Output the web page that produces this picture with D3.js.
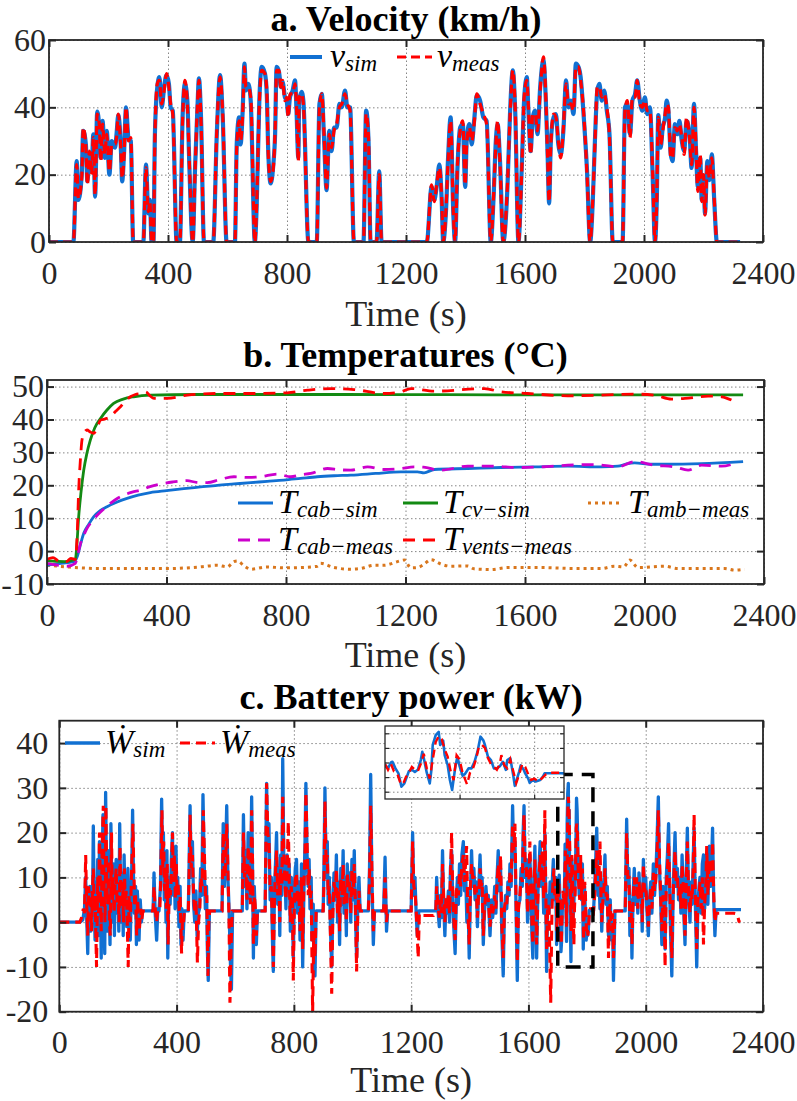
<!DOCTYPE html>
<html>
<head>
<meta charset="utf-8">
<script src="https://d3js.org/d3.v7.min.js"></script>
<style>
  body { margin: 0; background: #fff; }
  svg { display: block; }
  text { font-family: "Liberation Serif", "Times New Roman", Times, "DejaVu Serif", serif; }
  .grid line { stroke: #858585; stroke-width: 1; stroke-dasharray: 1.5 2.5; }
  .grid .domain { display: none; }
  .tk line { stroke: #262626; stroke-width: 2; }
  .tk .domain { display: none; }
  .tk text { font-size: 32px; fill: #262626; font-family: "Liberation Serif", "Times New Roman", Times, "DejaVu Serif", serif; }
  .itk line { stroke: #262626; stroke-width: 1.2; }
  .itk .domain { display: none; }
</style>
</head>
<body>
<svg width="797" height="1101"></svg>
<script>
// ---- data ----
const timeTicks = [0, 400, 800, 1200, 1600, 2000, 2400];
const velTicks = [0, 20, 40, 60];
const tempTicks = [-10, 0, 10, 20, 30, 40, 50];
const powTicks = [-20, -10, 0, 10, 20, 30, 40];
const insetTimeTicks = [1750, 1800];
const insetPowTicks = [-10, 0, 10, 20, 30];
const zoomBox = [1700, 1820, -10, 33];   // t0, t1, p0, p1

// velocity (km/h)
const velTime = [
  0, 82, 93, 99, 110, 115, 124, 129, 136, 143,
  149, 155, 162, 169, 174, 180, 188, 194, 203, 211,
  222, 227, 233, 241, 246, 252, 259, 267, 275, 283,
  317, 326, 334, 339, 345, 351, 356, 364, 371, 379,
  387, 395, 403, 409, 416, 429, 440, 449, 457, 465,
  472, 483, 491, 499, 504, 511, 521, 552, 564, 575,
  584, 597, 625, 631, 639, 644, 651, 657, 662, 670,
  678, 692, 698, 707, 715, 726, 732, 737, 745, 754,
  760, 765, 773, 780, 785, 793, 799, 804, 810, 819,
  827, 832, 838, 841, 849, 855, 872, 900, 909, 917,
  924, 933, 942, 950, 958, 967, 976, 984, 995, 1003,
  1012, 1025, 1057, 1066, 1074, 1081, 1101, 1110, 1118, 1270,
  1286, 1295, 1303, 1312, 1320, 1325, 1334, 1342, 1350, 1359,
  1365, 1373, 1382, 1391, 1399, 1404, 1413, 1421, 1429, 1438,
  1449, 1460, 1471, 1485, 1494, 1502, 1508, 1516, 1527, 1541,
  1550, 1559, 1567, 1578, 1589, 1597, 1606, 1611, 1619, 1626,
  1634, 1642, 1651, 1662, 1670, 1676, 1681, 1687, 1696, 1704,
  1712, 1720, 1729, 1738, 1746, 1754, 1763, 1771, 1780, 1787,
  1796, 1808, 1819, 1828, 1835, 1843, 1850, 1858, 1866, 1875,
  1884, 1895, 1928, 1936, 1944, 1953, 1961, 1970, 1977, 1986,
  1994, 2003, 2011, 2020, 2029, 2037, 2043, 2048, 2056, 2063,
  2071, 2076, 2082, 2090, 2096, 2104, 2112, 2119, 2127, 2135,
  2143, 2153, 2160, 2168, 2175, 2181, 2189, 2194, 2200, 2205,
  2213, 2220, 2228, 2236, 2245, 2323
];
const velSim = [
  0, 0, 24, 12.5, 20, 33, 29, 18, 26, 21,
  32, 13.5, 38.7, 34, 25, 36, 25, 33, 20, 30,
  28, 32, 37.7, 29, 18, 26, 40, 31, 30, 0,
  0, 23, 8.5, 12.5, 0, 0, 32, 46, 49, 40,
  46, 49.6, 47, 40, 39, 0, 0, 37, 47, 42,
  22, 0, 22, 40, 48.6, 37, 0, 0, 32, 49.6,
  37, 0, 0, 29, 37, 29, 39, 53, 45, 47,
  42, 0, 10.5, 42, 52, 50, 44, 27, 17.4, 23,
  32, 52, 50.6, 46, 47.6, 43, 42, 38, 43, 45,
  48, 39, 25, 42, 44.6, 42, 0, 0, 41, 44,
  32, 15.4, 33, 27, 34, 34, 41, 40, 45, 40,
  40, 0, 0, 39, 30, 0, 0, 21, 0, 0,
  16.4, 12.5, 16.4, 23, 12.5, 0, 8.5, 26, 37, 8.5,
  0, 22, 34, 35, 16.4, 30, 35, 29, 36, 43.6,
  42, 37, 36, 0, 12.5, 30, 35, 24, 0, 16.4,
  39, 51, 39, 0, 22, 42, 49, 40, 27, 37,
  39, 32, 46, 54, 42, 26, 11.5, 30, 37, 38,
  29, 26, 33, 48, 40, 42, 38, 53, 52, 49,
  39, 22, 0, 12.5, 30, 45, 47, 42, 45, 39,
  32, 0, 0, 40, 41, 32, 42, 44, 48, 42,
  39, 43, 38, 40, 20, 0, 12.5, 37.7, 28, 34,
  37, 42, 39, 26, 24, 35, 32, 36, 30, 27,
  36, 32, 22, 41, 27, 16.4, 25, 12.5, 19.4, 8.5,
  24, 18.4, 26, 12.5, 0, 0
];
const velMeas = [
  0, 0, 23, 13, 19, 34, 28, 17, 27, 20,
  31, 14, 38, 35, 24, 35, 26, 32, 21, 29,
  29, 31, 38, 28, 19, 25, 40, 30, 31, 0,
  0, 22, 9, 12, 0, 0, 31, 47, 48, 41,
  45, 50, 46, 41, 38, 0, 0, 36, 48, 41,
  23, 0, 21, 41, 48, 36, 0, 0, 33, 49,
  38, 0, 0, 28, 36, 30, 38, 52, 46, 46,
  43, 0, 11, 41, 51, 50, 45, 26, 18, 22,
  33, 51, 51, 45, 48, 42, 43, 37, 44, 44,
  47, 40, 24, 43, 44, 41, 0, 0, 40, 44,
  33, 16, 32, 28, 33, 35, 40, 41, 44, 41,
  39, 0, 0, 38, 31, 0, 0, 20, 0, 0,
  17, 12, 17, 22, 13, 0, 9, 25, 36, 9,
  0, 23, 33, 36, 17, 29, 34, 30, 35, 44,
  41, 38, 35, 0, 13, 29, 36, 23, 0, 17,
  38, 51, 40, 0, 21, 43, 48, 41, 26, 38,
  38, 33, 45, 55, 43, 25, 12, 29, 38, 37,
  30, 25, 34, 47, 41, 41, 39, 52, 52, 48,
  40, 21, 0, 13, 29, 46, 46, 43, 44, 40,
  31, 0, 0, 39, 42, 31, 43, 43, 48, 41,
  40, 42, 39, 39, 21, 0, 13, 37, 29, 33,
  38, 41, 40, 25, 25, 34, 33, 35, 31, 26,
  37, 31, 23, 40, 28, 15, 26, 12, 20, 8,
  23, 19, 25, 13, 0, 0
];

// temperatures (degC), [time, value]
const tCabSim = [[0,-4.3],[40,-3.8],[89,-3.2],[101,-1.7],[112,2],[123,5.4],[140,8.2],[156,10.4],[178,12.3],[201,13.5],
  [235,14.9],[268,16],[305,17],[346,17.8],[400,18.4],[458,19],[514,19.5],[570,20],[626,20.4],[682,20.8],
  [737,21.2],[793,21.6],[849,22.1],[905,22.6],[961,22.9],[1017,23.1],[1100,23.6],[1184,24.1],[1240,24.1],[1262,23.8],
  [1296,24.8],[1408,25.1],[1520,25.4],[1631,25.6],[1743,25.8],[1855,25.6],[1911,25.8],[1940,26.5],[1967,26.8],[2023,26.4],
  [2079,26.4],[2191,26.6],[2330,27.2]];
const tCvSim = [[0,-3],[60,-3.2],[95,-2.5],[100,2],[106,10.4],[114,18],[123,24.6],[133,29.5],[145,33.7],[160,37.5],
  [179,40.3],[200,42.8],[223,44.9],[255,46.2],[290,46.9],[346,47.4],[500,47.6],[1000,47.6],[1500,47.5],[2000,47.5],[2330,47.5]];
const tAmbMeas = [[0,-4.3],[67,-4.8],[179,-5.3],[290,-5.3],[402,-5.3],[514,-4.8],[570,-4.3],[603,-4.8],[626,-3.2],[637,-3],
  [660,-4.5],[682,-5.5],[737,-4.8],[793,-5.1],[849,-5],[905,-4.6],[916,-3.7],[961,-5],[1017,-5.5],[1050,-5.3],
  [1095,-4.3],[1128,-4.3],[1173,-3.2],[1196,-2.7],[1218,-5.1],[1240,-5],[1262,-4],[1285,-2.6],[1320,-4],[1352,-4.6],
  [1408,-4.5],[1430,-5.4],[1486,-5.6],[1542,-5],[1654,-5],[1766,-5.3],[1855,-5.3],[1900,-4.6],[1930,-4.8],[1951,-2.7],
  [1978,-5],[2067,-4.6],[2112,-5.3],[2202,-5.3],[2269,-5.3],[2302,-5.8],[2335,-5.5]];
const tCabMeas = [[0,-3.7],[30,-4.2],[67,-4.6],[95,-3.7],[103,-1],[112,2.3],[123,4.8],[134,6.9],[150,9],[168,10.9],
  [190,12.8],[212,14.5],[235,16],[257,17],[285,17.9],[313,18.5],[345,19.6],[380,20.4],[420,21],[469,21.4],
  [500,20.9],[536,20.8],[580,21.8],[626,22.6],[670,22.4],[715,22.6],[771,23.4],[816,22.6],[850,23.2],[883,23.6],
  [939,25.1],[980,24.7],[1017,24.6],[1073,25.6],[1128,24.8],[1184,25.1],[1229,25.6],[1260,25.5],[1318,24.6],[1408,25.8],
  [1497,25.8],[1575,25.4],[1654,25.6],[1743,26.1],[1832,26.3],[1911,25.6],[1967,27.2],[2034,26.1],[2101,25.6],[2146,24.6],
  [2191,26.1],[2258,25.8],[2302,26.6]];
const tVentsMeas = [[0,-2.5],[20,-2],[40,-3],[65,-3.2],[80,-2.2],[95,-2.5],[101,5],[106,18.5],[112,28],[117,33.7],
  [125,36],[134,36.8],[145,36.2],[156,35.8],[168,37.5],[179,39.8],[195,40.2],[212,40.8],[230,42.5],[246,43.9],
  [262,45.5],[279,46.9],[296,47.6],[313,47.9],[330,48.4],[345,47.2],[358,46.4],[402,46.4],[469,47.4],[570,47.9],
  [693,47.9],[804,48.1],[872,48.9],[950,49.4],[1028,49.1],[1128,47.9],[1184,48.4],[1218,49.4],[1296,48.6],[1464,49.4],
  [1520,48.4],[1609,47.9],[1743,47.2],[1855,47.4],[1967,47.7],[2034,47.4],[2090,46.2],[2135,46.4],[2213,47.1],[2258,46.9],
  [2291,45.9]];

// battery power (kW), [time, value]
const powSim = [
  [0,0],[70,0],[80,0.5],[86,3],[90,10],[93,2],[97,-7],[100,5],[104,8],[107,-2],
  [110,6],[113,1],[116,21.5],[119,4],[122,-4],[125,9],[128,2],[131,14],[134,-3],[137,18],
  [140,6],[143,-8],[146,12],[149,24],[152,3],[155,-7],[158,29],[161,10],[164,-2],[167,16],
  [170,5],[173,-5],[176,22],[179,8],[182,0],[185,13],[188,-3],[191,10],[194,14],[197,2],
  [200,8],[203,-2],[206,22],[209,6],[212,0],[215,11],[218,-3],[221,15],[224,5],[227,9],
  [230,-1],[234,12],[238,3],[242,-4],[246,7],[250,25],[253,10],[256,2],[260,8],[263,-5],
  [266,7],[269,3],[272,-4],[276,5],[280,0],[284,2.5],[320,2.5],[323,11],[327,2],[332,-4],
  [336,3],[340,2.5],[345,8],[349,27.5],[352,15],[355,20],[358,5],[361,12],[364,0],[367,16],
  [370,-8],[374,10],[378,4],[382,14],[386,20],[389,6],[392,13],[395,3],[398,17],[401,5],
  [404,10],[408,-1],[412,8],[415,-5],[418,3],[422,-4],[426,2.5],[440,2.5],[443,14],[446,26],
  [450,10],[454,18],[458,4],[462,0],[466,7],[470,-3],[474,2],[478,3],[482,12],[486,6],
  [490,28.5],[494,14],[498,3],[502,8],[505,-6],[508,-13],[512,2.5],[555,2.5],[559,22],[563,8],
  [567,15],[571,26],[575,10],[579,3],[583,-8],[587,-15],[591,2.5],[624,2.5],[628,24],[632,8],
  [636,16],[640,3],[644,20],[648,10],[652,5],[656,28],[659,12],[662,-8],[665,8],[668,2],
  [672,-5],[676,2.5],[702,2.5],[707,31],[711,16],[715,22],[719,5],[723,10],[727,-4],[730,-11],
  [734,8],[738,14],[741,20],[745,4],[749,12],[752,-3],[755,15],[759,6],[762,36.5],[766,12],
  [770,10],[773,3],[777,15],[781,7],[784,13],[788,-2],[791,10],[795,3],[798,-8],[802,8],
  [805,12],[809,14],[813,2],[817,9],[821,-4],[826,13],[830,-10],[834,6],[838,18],[841,31],
  [845,15],[849,8],[852,14],[855,3],[859,10],[862,-4],[866,4],[869,-10],[872,-12],[876,2.5],
  [900,2.5],[903,14],[906,30],[910,10],[914,18],[917,4],[921,10],[925,-2],[929,-10],[933,4],
  [937,11],[941,5],[945,15],[949,0],[952,9],[956,-5],[960,12],[964,4],[968,16],[971,2],
  [975,10],[979,-3],[982,13],[986,6],[990,11],[994,0],[998,14],[1002,5],[1006,16],[1010,2],
  [1014,-8],[1018,4],[1022,10],[1026,2.5],[1054,2.5],[1058,12],[1062,33],[1066,10],[1071,-5],[1075,2.5],
  [1106,2.5],[1111,14.5],[1116,-2],[1120,2.5],[1200,2.5],[1205,20],[1209,6],[1213,10],[1217,2],[1221,-3],
  [1226,2.5],[1284,2.5],[1287,10],[1291,3],[1296,-1],[1300,6],[1303,1],[1307,16],[1311,4],[1315,-3],
  [1319,5],[1323,2],[1327,7],[1331,0],[1334,12],[1338,16],[1342,4],[1346,-2],[1350,-7],[1354,5],
  [1358,10],[1361,4],[1365,13],[1369,6],[1373,15],[1378,18],[1382,7],[1386,11],[1390,0],[1394,5],
  [1398,-8],[1402,6],[1406,16],[1410,8],[1414,12],[1418,5],[1422,9],[1426,-1],[1430,7],[1435,15],
  [1439,6],[1442,10],[1446,-5],[1450,2],[1455,8],[1459,4],[1463,6],[1469,-3],[1474,5],[1478,1],
  [1481,3],[1485,8],[1489,2],[1493,10],[1497,16],[1501,7],[1505,12],[1509,-2],[1514,-12],[1518,2],
  [1522,6],[1526,3],[1530,9],[1534,6],[1537,13],[1541,8],[1546,26],[1550,14],[1554,18],[1558,2],
  [1562,-13],[1566,4],[1571,5],[1575,12],[1579,8],[1582,20],[1585,26],[1589,10],[1593,14],[1597,0],
  [1601,9],[1605,15],[1609,4],[1612,-3],[1615,-8],[1619,10],[1622,17],[1625,5],[1628,-8],[1632,6],
  [1636,12],[1640,18],[1644,8],[1648,14],[1652,2],[1656,20],[1659,5],[1662,-11],[1666,6],[1670,2],
  [1674,9],[1678,4],[1682,10],[1685,14],[1689,5],[1693,10],[1696,-5],
  [1700,8.3],[1702,6],[1704,10],[1705,10.5],[1707,6],[1709,2.6],[1711,-6.6],[1713,-4.3],[1716,4],[1718,5],
  [1720,3.5],[1722,5],[1724,11.7],[1725,17.4],[1726,13],[1728,3],[1730,-4.3],[1731,4],[1732,22],[1734,28.8],
  [1736,31],[1737,22],[1739,25],[1740,15],[1742,8.3],[1743.5,-2],[1745,-8.8],[1747,6],[1748.5,14],[1750,7.6],
  [1752,1],[1753.5,2],[1756,6],[1758,6],[1760,10.5],[1762,17.4],[1764,27.7],[1766,25],[1767,22],[1769,14],
  [1771,11.7],[1773,6],[1775,6],[1777,7.5],[1779,10.5],[1781,5],[1782,11.7],[1784,13],[1786,1],[1787,-6],
  [1790,4],[1791,8],[1793,5],[1794,2.5],[1796,-1],[1797,-4],[1799,-2],[1801,-3],[1804,-2],[1806,0.5],
  [1807,2.6],[1818,2.6],
  [1822,2.5],[1826,8],[1830,15],[1833,21],[1837,6],[1840,12],[1844,3],[1847,9],[1850,-2],[1854,6],
  [1858,10],[1861,15],[1865,4],[1869,8],[1873,-3],[1876,2],[1879,5],[1883,-4],[1887,0],[1890,-13],
  [1895,2.5],[1930,2.5],[1935,23],[1939,8],[1943,12],[1946,-3],[1950,5],[1953,-8],[1957,6],[1961,12],
  [1965,4],[1969,9],[1973,2],[1977,11],[1981,5],[1985,8],[1988,-2],[1992,14],[1996,6],[2000,10],
  [2004,3],[2009,-3],[2013,5],[2017,9],[2021,2],[2026,13],[2030,6],[2034,10],[2038,17],[2043,28],
  [2047,12],[2051,5],[2055,-5],[2059,8],[2063,3],[2066,-6],[2070,10],[2074,15],[2078,22],[2082,6],
  [2085,-3],[2089,-12],[2093,4],[2096,12],[2100,20],[2104,8],[2108,12],[2112,5],[2116,10],[2120,2],
  [2124,15],[2128,7],[2131,0],[2134,-5],[2138,10],[2142,21],[2146,6],[2151,0],[2155,9],[2158,4],
  [2162,14],[2165,21],[2169,5],[2174,-10],[2178,4],[2182,8],[2185,10],[2189,2],[2193,13],[2197,15],
  [2201,3],[2205,10],[2208,15],[2212,4],[2217,17],[2221,8],[2224,12],[2228,21],[2232,5],[2236,-3],
  [2240,2.8],[2325,2.8]
];
const powMeas = [
  [0,0],[70,0],[76,1],[82,3],[86,2],[90,15],[93,5],[97,-3],[100,8],[104,4],
  [107,6],[110,-2],[113,7],[116,12],[119,2],[122,6],[127,-10],[131,10],[134,2],[137,20],
  [140,8],[143,-2],[146,16],[150,26],[153,6],[156,0],[159,26],[162,8],[165,4],[168,14],
  [171,0],[174,-3],[178,20],[181,5],[184,10],[187,2],[190,8],[194,12],[197,4],[200,6],
  [204,0],[207,17],[210,5],[213,3],[216,9],[219,0],[222,12],[225,4],[228,7],[231,2],
  [235,-10],[238,6],[242,0],[246,10],[251,22],[254,12],[257,4],[260,6],[264,-3],[267,5],
  [270,1],[273,-2],[277,3],[281,0.5],[285,2.5],[320,2.5],[323,8],[327,3],[332,0],[336,3],
  [343,3],[346,10],[350,25],[353,12],[356,18],[359,7],[362,10],[365,3],[368,13],[371,-5],
  [375,8],[379,6],[383,12],[386,20],[389,9],[392,15],[396,5],[399,13],[402,6],[405,9],
  [409,2],[412,6],[417,-7],[420,1],[424,0],[427,2.5],[440,2.5],[443,12],[446,24],[450,12],
  [454,15],[458,6],[462,2],[466,5],[471,-9],[475,0],[479,3],[483,10],[487,8],[491,25],
  [495,15],[499,5],[503,6],[507,-12],[510,0],[513,2.5],[555,2.5],[559,20],[563,10],[567,12],
  [571,22],[575,12],[579,0],[582,-18],[586,-5],[590,2.5],[624,2.5],[628,20],[632,10],[636,13],
  [640,5],[644,17],[648,12],[652,4],[656,25],[659,14],[662,-5],[665,6],[668,4],[672,-3],
  [676,2.5],[702,2.5],[707,31],[711,20],[715,18],[719,7],[723,8],[727,-2],[730,-10],[734,6],
  [738,12],[741,16],[745,6],[749,10],[752,0],[755,12],[759,8],[762,28],[766,15],[770,8],
  [773,5],[777,12],[781,22.5],[784,10],[788,0],[791,8],[795,5],[798,-13],[802,5],[805,10],
  [809,11],[813,4],[817,7],[821,-2],[826,10],[830,-6],[834,8],[838,15],[841,29],[845,18],
  [849,6],[852,12],[855,5],[859,7],[864,-20],[868,-2],[872,-8],[876,2.5],[900,2.5],[903,10],
  [906,27],[910,13],[914,15],[917,6],[921,8],[925,-4],[929,-16],[933,2],[937,9],[941,6],
  [945,12],[949,2],[952,7],[956,-2],[960,10],[964,6],[968,13],[971,4],[975,8],[979,0],
  [982,11],[986,8],[990,9],[994,2],[998,12],[1002,6],[1006,13],[1010,4],[1014,-11],[1018,2],
  [1022,7],[1026,2.5],[1054,2.5],[1058,9],[1062,26],[1066,12],[1071,-2],[1075,2.5],[1106,2.5],[1111,10],
  [1116,0],[1120,2.5],[1200,2.5],[1205,18],[1209,8],[1213,7],[1217,3],[1224,-8],[1228,2],[1240,1.5],
  [1276,1.5],[1284,2.5],[1287,8],[1291,4],[1296,1],[1300,5],[1303,2],[1307,13],[1311,5],[1315,0],
  [1319,6],[1323,3],[1327,6],[1331,2],[1334,10],[1338,20],[1342,6],[1346,0],[1350,-4],[1354,7],
  [1358,8],[1361,6],[1365,11],[1369,8],[1373,13],[1378,15],[1382,9],[1389,17],[1393,3],[1398,-5],
  [1402,8],[1406,13],[1410,10],[1414,10],[1418,6],[1422,8],[1426,1],[1430,6],[1435,12],[1439,8],
  [1442,9],[1446,-3],[1450,3],[1455,7],[1459,5],[1463,5],[1469,-1],[1474,4],[1478,2],[1481,3],
  [1485,6],[1489,3],[1493,9],[1497,13],[1501,9],[1505,15],[1509,0],[1514,-8],[1518,3],[1522,5],
  [1526,4],[1530,8],[1534,7],[1537,11],[1541,9],[1546,22],[1550,16],[1554,22],[1558,4],[1562,-9],
  [1566,3],[1571,6],[1575,10],[1579,9],[1582,18],[1585,24],[1589,12],[1593,12],[1597,2],[1601,8],
  [1605,18],[1609,6],[1612,0],[1615,-5],[1619,8],[1622,14],[1625,6],[1628,-5],[1632,5],[1636,10],
  [1640,15],[1644,9],[1648,18],[1652,5],[1656,25],[1659,8],[1662,-6],[1666,4],[1670,3],[1676,-18],
  [1680,2],[1683,8],[1687,12],[1690,6],[1694,8],[1697,-2],
  [1700,9],[1702,5],[1704,9],[1706,4],[1708,3],[1710,-3],[1712,-5],[1714,0],[1716,3],[1718,7],
  [1720,5],[1722,4],[1724,9],[1726,16],[1728,6],[1730,-1],[1732,12],[1734,24],[1736,28],[1738,26],
  [1740,19],[1742,14],[1744,4],[1746,-2],[1748,15],[1750,12],[1752,3],[1755,-5],[1757,3],[1759,6],
  [1761,12],[1763,21],[1765,22],[1767,20],[1769,13],[1771,9],[1773,7],[1775,5],[1777,9],[1778,15],
  [1780,8],[1782,6],[1784,12],[1786,4],[1788,-4],[1790,2],[1792,9],[1794,7],[1796,2],[1798,-2],
  [1800,-1],[1803,-3],[1806,0],[1808,2],[1811,3],[1818,3],
  [1822,2.5],[1826,6],[1830,12],[1833,16],[1837,8],[1840,10],[1844,18],[1847,7],[1850,0],[1854,5],
  [1858,8],[1861,12],[1865,6],[1869,6],[1873,-8],[1876,3],[1879,4],[1883,-2],[1887,2],[1890,-8],
  [1895,2.5],[1930,2.5],[1935,20],[1939,10],[1943,10],[1946,0],[1950,4],[1953,-5],[1957,5],[1961,10],
  [1965,6],[1969,10],[1973,3],[1977,9],[1981,6],[1985,7],[1988,0],[1992,13],[1996,7],[2000,8],
  [2004,4],[2009,-1],[2013,4],[2017,8],[2021,3],[2026,11],[2030,7],[2034,9],[2038,14],[2043,25],
  [2047,14],[2051,6],[2055,-2],[2059,6],[2063,4],[2066,-10],[2070,8],[2074,12],[2078,18],[2082,8],
  [2085,0],[2089,-8],[2093,5],[2096,10],[2100,16],[2104,9],[2108,10],[2112,6],[2116,8],[2120,3],
  [2124,13],[2128,8],[2131,2],[2134,-3],[2138,8],[2142,18],[2146,7],[2151,2],[2155,7],[2158,5],
  [2162,12],[2165,24],[2169,7],[2174,-6],[2178,5],[2182,6],[2185,9],[2189,3],[2193,10],[2197,-5],
  [2201,4],[2205,8],[2208,17],[2212,6],[2217,14],[2221,9],[2224,10],[2228,18],[2232,6],[2236,0],
  [2240,2],[2300,2],[2312,1.8],[2318,0.2],[2322,0]
];

// ---- drawing ----
const FONT = "'Liberation Serif', 'Times New Roman', Times, 'DejaVu Serif', serif";
const svg = d3.select("svg").attr("font-family", FONT);
const C = { blue: "#1170d2", red: "#ff0000", green: "#138a13", mag: "#cc00cc", orange: "#d9761c", ink: "#262626" };

function makeAxes(box, ydom, yTicks, yPad, title, titleY, labelY, id) {
  const x = d3.scaleLinear().domain([0, 2400]).range([box.l, box.r]);
  const y = d3.scaleLinear().domain(ydom).range([box.b, box.t]);
  const g = svg.append("g");
  g.append("rect").attr("x", box.l).attr("y", box.t)
    .attr("width", box.r - box.l).attr("height", box.b - box.t).attr("fill", "#fff");
  g.append("g").attr("class", "grid").attr("transform", `translate(0,${box.b})`)
    .call(d3.axisBottom(x).tickValues(timeTicks).tickSize(-(box.b - box.t)).tickFormat(""));
  g.append("g").attr("class", "grid").attr("transform", `translate(${box.l},0)`)
    .call(d3.axisLeft(y).tickValues(yTicks).tickSize(-(box.r - box.l)).tickFormat(""));
  g.append("clipPath").attr("id", id).append("rect")
    .attr("x", box.l).attr("y", box.t).attr("width", box.r - box.l).attr("height", box.b - box.t);
  const plot = g.append("g").attr("clip-path", `url(#${id})`);

  function finish() {
    g.append("rect").attr("x", box.l).attr("y", box.t)
      .attr("width", box.r - box.l).attr("height", box.b - box.t)
      .attr("fill", "none").attr("stroke", C.ink).attr("stroke-width", 1.8);
    const tk = [
      g.append("g").attr("transform", `translate(0,${box.b})`)
        .call(d3.axisBottom(x).tickValues(timeTicks).tickSize(-7).tickPadding(19).tickFormat(d => String(d))),
      g.append("g").attr("transform", `translate(0,${box.t})`)
        .call(d3.axisTop(x).tickValues(timeTicks).tickSize(-7).tickFormat("")),
      g.append("g").attr("transform", `translate(${box.l},0)`)
        .call(d3.axisLeft(y).tickValues(yTicks).tickSize(-7).tickPadding(yPad).tickFormat(d => String(d))),
      g.append("g").attr("transform", `translate(${box.r},0)`)
        .call(d3.axisRight(y).tickValues(yTicks).tickSize(-7).tickFormat(""))
    ];
    tk.forEach(a => a.attr("class", "tk").attr("font-family", FONT).attr("font-size", 32));
    g.append("text").attr("x", (box.l + box.r) / 2).attr("y", titleY)
      .attr("text-anchor", "middle").attr("font-size", 36).attr("font-weight", "bold")
      .attr("fill", "#000").text(title);
    g.append("text").attr("x", (box.l + box.r) / 2).attr("y", labelY)
      .attr("text-anchor", "middle").attr("font-size", 36).attr("fill", C.ink).text("Time (s)");
  }
  return { x, y, g, plot, finish };
}

function mathText(g, x, y, main, sub) {
  const t = g.append("text").attr("x", x).attr("y", y)
    .attr("font-style", "italic").attr("fill", "#000");
  t.append("tspan").attr("font-size", 34).text(main);
  t.append("tspan").attr("font-size", 23).attr("dy", 4).text(sub);
}

function legendLine(g, x0, x1, y, color, width, dash) {
  g.append("line").attr("x1", x0).attr("x2", x1).attr("y1", y).attr("y2", y)
    .attr("stroke", color).attr("stroke-width", width).attr("stroke-dasharray", dash || null);
}

// panel a: velocity
{
  const A = makeAxes({ l: 49, r: 763, t: 40, b: 242 }, [0, 60], velTicks, 3, "a. Velocity (km/h)", 31, 326, "clipA");
  const line = d3.line().x(d => A.x(d[0])).y(d => A.y(d[1])).curve(d3.curveMonotoneX);
  const simPts = velTime.map((t, i) => [t, velSim[i]]);
  const measPts = velTime.map((t, i) => [t, velMeas[i]]);
  A.plot.append("path").datum(simPts).attr("d", line).attr("fill", "none")
    .attr("stroke", C.blue).attr("stroke-width", 4.2).attr("stroke-linejoin", "round");
  A.plot.append("path").datum(measPts).attr("d", line).attr("fill", "none")
    .attr("stroke", C.red).attr("stroke-width", 3.2).attr("stroke-dasharray", "9,5");
  A.finish();
  legendLine(A.g, 290, 322, 57, C.blue, 4);
  mathText(A.g, 330, 67, "v", "sim");
  legendLine(A.g, 397, 432, 57, C.red, 3.2, "9,5");
  mathText(A.g, 437, 67, "v", "meas");
}

// panel b: temperatures
{
  const B = makeAxes({ l: 47, r: 764, t: 380, b: 584 }, [-10, 52], tempTicks, 3, "b. Temperatures (°C)", 367, 667, "clipB");
  const line = d3.line().x(d => B.x(d[0])).y(d => B.y(d[1])).curve(d3.curveMonotoneX);
  const series = [
    { d: tAmbMeas, c: C.orange, w: 3, dash: "3,4" },
    { d: tCabSim, c: C.blue, w: 2.8 },
    { d: tCvSim, c: C.green, w: 2.8 },
    { d: tCabMeas, c: C.mag, w: 2.8, dash: "12,8" },
    { d: tVentsMeas, c: C.red, w: 2.8, dash: "12,8" }
  ];
  series.forEach(s => {
    B.plot.append("path").datum(s.d).attr("d", line).attr("fill", "none")
      .attr("stroke", s.c).attr("stroke-width", s.w).attr("stroke-dasharray", s.dash || null);
  });
  B.finish();
  legendLine(B.g, 238, 273, 503, C.blue, 2.8);
  mathText(B.g, 278, 513, "T", "cab−sim");
  legendLine(B.g, 403, 438, 503, C.green, 2.8);
  mathText(B.g, 443, 513, "T", "cv−sim");
  legendLine(B.g, 588, 622, 503, C.orange, 3, "3,4");
  mathText(B.g, 628, 513, "T", "amb−meas");
  legendLine(B.g, 238, 273, 540, C.mag, 2.8, "12,8");
  mathText(B.g, 278, 550, "T", "cab−meas");
  legendLine(B.g, 403, 438, 540, C.red, 2.8, "12,8");
  mathText(B.g, 443, 550, "T", "vents−meas");
}

// panel c: battery power
{
  const P = makeAxes({ l: 59.3, r: 763, t: 720.7, b: 1011.7 }, [-20, 45], powTicks, 11, "c. Battery power (kW)", 709, 1092, "clipC");
  const line = d3.line().x(d => P.x(d[0])).y(d => P.y(d[1]));
  P.plot.append("path").datum(powSim).attr("d", line).attr("fill", "none")
    .attr("stroke", C.blue).attr("stroke-width", 3.3).attr("stroke-linejoin", "round");
  P.plot.append("path").datum(powMeas).attr("d", line).attr("fill", "none")
    .attr("stroke", C.red).attr("stroke-width", 3.1).attr("stroke-dasharray", "10,6");
  P.finish();

  // zoom window
  P.g.append("rect")
    .attr("x", P.x(zoomBox[0])).attr("y", P.y(zoomBox[3]))
    .attr("width", P.x(zoomBox[1]) - P.x(zoomBox[0])).attr("height", P.y(zoomBox[2]) - P.y(zoomBox[3]))
    .attr("fill", "none").attr("stroke", "#000").attr("stroke-width", 3.5).attr("stroke-dasharray", "15,9");

  // inset
  const ib = { l: 385, r: 564, t: 726, b: 799 };
  const ix = d3.scaleLinear().domain([zoomBox[0], zoomBox[1]]).range([ib.l, ib.r]);
  const iy = d3.scaleLinear().domain([-15, 35]).range([ib.b, ib.t]);
  const ig = P.g.append("g");
  ig.append("rect").attr("x", ib.l).attr("y", ib.t).attr("width", ib.r - ib.l).attr("height", ib.b - ib.t).attr("fill", "#fff");
  ig.append("g").attr("class", "grid").attr("transform", `translate(0,${ib.b})`)
    .call(d3.axisBottom(ix).tickValues(insetTimeTicks).tickSize(-(ib.b - ib.t)).tickFormat(""));
  ig.append("g").attr("class", "grid").attr("transform", `translate(${ib.l},0)`)
    .call(d3.axisLeft(iy).tickValues(insetPowTicks).tickSize(-(ib.r - ib.l)).tickFormat(""));
  ig.append("clipPath").attr("id", "clipI").append("rect")
    .attr("x", ib.l).attr("y", ib.t).attr("width", ib.r - ib.l).attr("height", ib.b - ib.t);
  const ip = ig.append("g").attr("clip-path", "url(#clipI)");
  const iline = d3.line().x(d => ix(d[0])).y(d => iy(d[1]));
  const inWin = d => d[0] >= zoomBox[0] - 10 && d[0] <= zoomBox[1] + 10;
  ip.append("path").datum(powSim.filter(inWin)).attr("d", iline).attr("fill", "none")
    .attr("stroke", C.blue).attr("stroke-width", 2.6).attr("stroke-linejoin", "round");
  ip.append("path").datum(powMeas.filter(inWin)).attr("d", iline).attr("fill", "none")
    .attr("stroke", C.red).attr("stroke-width", 2.4).attr("stroke-dasharray", "8,5");
  ig.append("rect").attr("x", ib.l).attr("y", ib.t).attr("width", ib.r - ib.l).attr("height", ib.b - ib.t)
    .attr("fill", "none").attr("stroke", C.ink).attr("stroke-width", 1.3);
  ig.append("g").attr("class", "itk").attr("transform", `translate(0,${ib.b})`)
    .call(d3.axisBottom(ix).tickValues(insetTimeTicks).tickSize(-4).tickFormat(""));
  ig.append("g").attr("class", "itk").attr("transform", `translate(0,${ib.t})`)
    .call(d3.axisTop(ix).tickValues(insetTimeTicks).tickSize(-4).tickFormat(""));
  ig.append("g").attr("class", "itk").attr("transform", `translate(${ib.l},0)`)
    .call(d3.axisLeft(iy).tickValues(insetPowTicks).tickSize(-4).tickFormat(""));
  ig.append("g").attr("class", "itk").attr("transform", `translate(${ib.r},0)`)
    .call(d3.axisRight(iy).tickValues(insetPowTicks).tickSize(-4).tickFormat(""));

  legendLine(P.g, 65, 100, 743, C.blue, 3.3);
  mathText(P.g, 105, 753, "Ẇ", "sim");
  legendLine(P.g, 180, 215, 743, C.red, 3, "10,6");
  mathText(P.g, 220, 753, "Ẇ", "meas");
}
</script>
</body>
</html>
